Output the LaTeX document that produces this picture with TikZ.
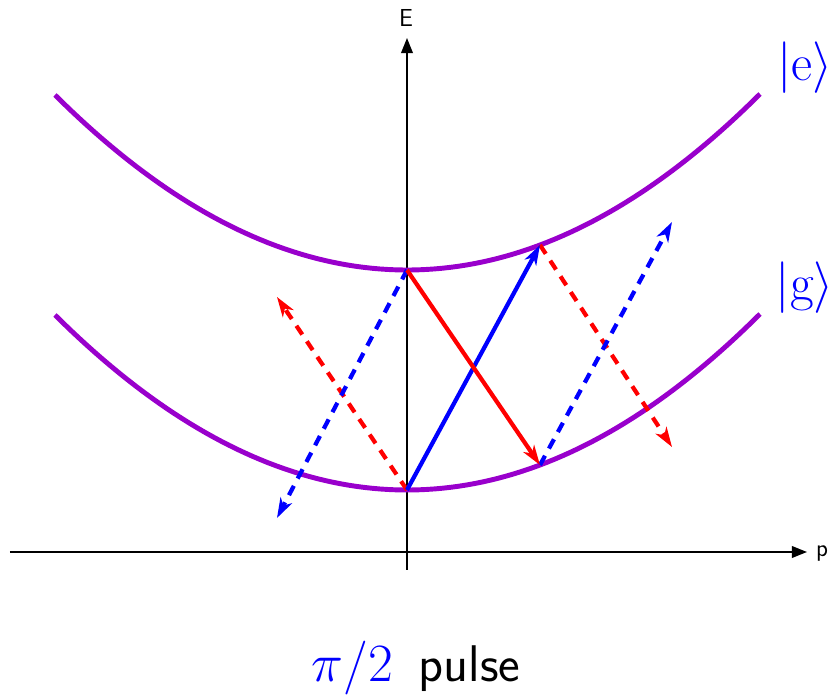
\RequirePackage{fix-cm}
\documentclass[tikz,border=0pt]{standalone}
\usepackage{fontspec}
\usepackage{tikz}
\usetikzlibrary{arrows.meta}
\definecolor{bandpurple}{RGB}{153,0,204}

\begin{document}
\begin{tikzpicture}[x=0.03cm, y=0.03cm,
        font=\sffamily,
        axis/.style={line width=1.6pt, -{Triangle[length=13pt, width=10pt]}},
        band/.style={line width=4.2pt, bandpurple},
        kick/.style={line width=3.6pt, -{Stealth[length=17pt, width=11pt, inset=5pt]}, #1},
        kick/.default=blue,
        ghost/.style={kick=#1, dash pattern=on 9pt off 7pt},
        axislabel/.style={inner sep=0pt, font=\sffamily\fontsize{21}{24}\selectfont}]

        \useasboundingbox (-407,-145) rectangle (426,552);

        % Achsen
        \coordinate (pstart) at (-397,0);
        \coordinate (pend)   at (400,0);
        \coordinate (estart) at (0,-18);
        \coordinate (eend)   at (0,514);
        \draw[axis] (pstart) -- (pend);
        \draw[axis] (estart) -- (eend);
        \node[axislabel, anchor=west] (plabel) at (409,-2) {p};
        \node[axislabel] (elabel) at (-1,534) {E};

        % Parabeln |e> und |g>
        \draw[band] plot[domain=-352:353, samples=90] (\x, {282 + 175*(\x/352)^2});
        \draw[band] plot[domain=-352:353, samples=90] (\x, {62 + 175*(\x/352)^2});

        \node[blue, font=\fontsize{44}{48}\selectfont] (kete) at (398,484) {$|\mathrm{e}\rangle$};
        \node[blue, font=\fontsize{44}{48}\selectfont] (ketg) at (398,264) {$|\mathrm{g}\rangle$};

        % Zustaende auf den Parabeln
        \coordinate (e0) at (0,282);
        \coordinate (g0) at (0,62);
        \coordinate (e1) at (133,307);
        \coordinate (g1) at (133,87);
        \coordinate (leftred)   at (-130,255);
        \coordinate (leftblue)  at (-130,34);
        \coordinate (rightred)  at (265,105);
        \coordinate (rightblue) at (265,330);

        % Uebergaenge
        \draw[ghost=red]  (g0) -- (leftred);
        \draw[ghost=blue] (e0) -- (leftblue);
        \draw[ghost=red]  (e1) -- (rightred);
        \draw[ghost=blue] (g1) -- (rightblue);
        \draw[kick=blue]  (g0) -- (e1);
        \draw[kick=red]   (e0) -- (g1);

        % Titel
        \node (pulse) at (9,-116)
            {{\fontsize{46}{50}\selectfont\color{blue}$\pi/2$}\hspace{22pt}{\fontsize{44}{48}\selectfont pulse}};
\end{tikzpicture}
\end{document}
